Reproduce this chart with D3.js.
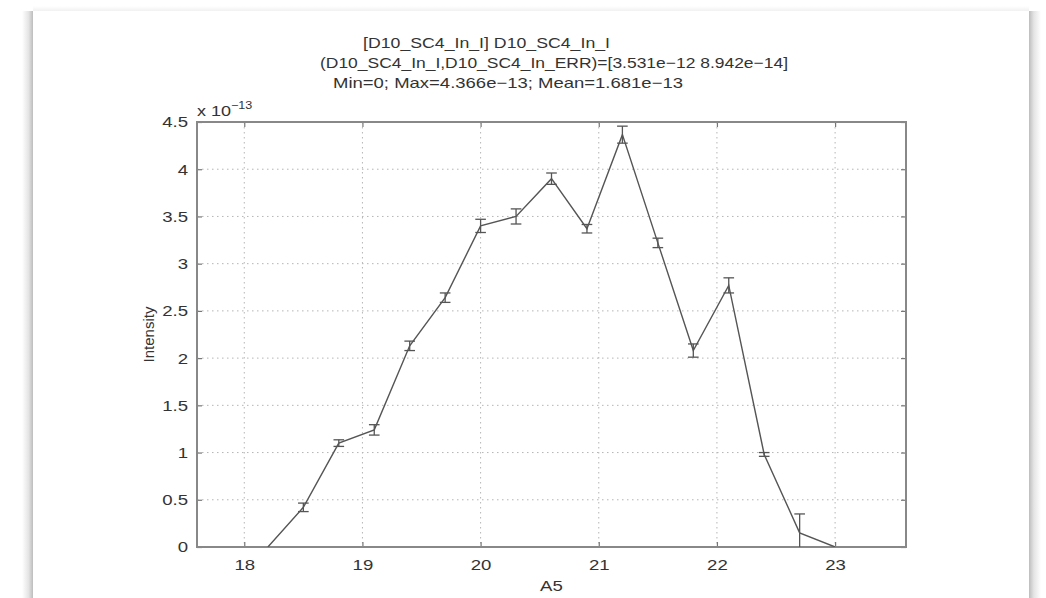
<!DOCTYPE html>
<html>
<head>
<meta charset="utf-8">
<script src="https://cdn.jsdelivr.net/npm/d3@7"></script>
<style>
  html, body { margin: 0; padding: 0; background: #ffffff; }
  svg { display: block; }
  text { font-family: "Liberation Sans", Arial, Helvetica, sans-serif; fill: #333; }
</style>
</head>
<body>
<svg id="chart" width="1046" height="598"></svg>
<script>
// ---- data ----
const titleLines = [
  "[D10_SC4_In_I] D10_SC4_In_I",
  "(D10_SC4_In_I,D10_SC4_In_ERR)=[3.531e\u221212 8.942e\u221214]",
  "Min=0; Max=4.366e\u221213; Mean=1.681e\u221213"
];
const xValues   = [18.2, 18.5, 18.8, 19.1, 19.4, 19.7, 20.0, 20.3, 20.6, 20.9, 21.2, 21.5, 21.8, 22.1, 22.4, 22.7, 23.0];
const intensity = [0, 0.42e-13, 1.10e-13, 1.24e-13, 2.13e-13, 2.64e-13, 3.40e-13, 3.50e-13, 3.90e-13, 3.37e-13, 4.366e-13, 3.22e-13, 2.08e-13, 2.77e-13, 0.98e-13, 0.15e-13, 0];
const errValues = [0, 0.045e-13, 0.035e-13, 0.055e-13, 0.05e-13, 0.05e-13, 0.07e-13, 0.08e-13, 0.06e-13, 0.045e-13, 0.09e-13, 0.05e-13, 0.07e-13, 0.08e-13, 0.02e-13, 0.20e-13, 0];
const xTicks = [18, 19, 20, 21, 22, 23];
const yTicks = [0, 0.5e-13, 1e-13, 1.5e-13, 2e-13, 2.5e-13, 3e-13, 3.5e-13, 4e-13, 4.5e-13];
const yTickLabels = ["0", "0.5", "1", "1.5", "2", "2.5", "3", "3.5", "4", "4.5"];
const xLabel = "A5";
const yLabel = "Intensity";
const xDomain = [17.6, 23.6];
const yDomain = [0, 4.5e-13];

// ---- layout ----
const svg = d3.select("#chart");
const W = 1046, H = 598;
const plot = { left: 197, right: 906, top: 122, bottom: 547 };
const hStretch = 1.2; // the reference text is horizontally widened

// page sheet with side shadows
const defs = svg.append("defs");
const gl = defs.append("linearGradient").attr("id", "shL").attr("x1", "0").attr("x2", "1");
gl.append("stop").attr("offset", "0").attr("stop-color", "#fff");
gl.append("stop").attr("offset", "0.6").attr("stop-color", "#e4e4e4");
gl.append("stop").attr("offset", "1").attr("stop-color", "#bdbdbd");
const gr = defs.append("linearGradient").attr("id", "shR").attr("x1", "0").attr("x2", "1");
gr.append("stop").attr("offset", "0").attr("stop-color", "#bdbdbd");
gr.append("stop").attr("offset", "0.4").attr("stop-color", "#e4e4e4");
gr.append("stop").attr("offset", "1").attr("stop-color", "#fff");
const gt = defs.append("linearGradient").attr("id", "shT").attr("x1", "0").attr("x2", "0").attr("y1", "0").attr("y2", "1");
gt.append("stop").attr("offset", "0").attr("stop-color", "#fff");
gt.append("stop").attr("offset", "1").attr("stop-color", "#f1f1f1");

svg.append("rect").attr("x", 0).attr("y", 0).attr("width", W).attr("height", H).attr("fill", "#fff");
svg.append("rect").attr("x", 22).attr("y", 11).attr("width", 11).attr("height", H - 11).attr("fill", "url(#shL)");
svg.append("rect").attr("x", 1029).attr("y", 11).attr("width", 12).attr("height", H - 11).attr("fill", "url(#shR)");
svg.append("rect").attr("x", 33).attr("y", 6).attr("width", 996).attr("height", 5).attr("fill", "url(#shT)");
svg.append("rect").attr("x", 33).attr("y", 11).attr("width", 996).attr("height", H - 11).attr("fill", "#fff");

const x = d3.scaleLinear().domain(xDomain).range([plot.left, plot.right]);
const y = d3.scaleLinear().domain(yDomain).range([plot.bottom, plot.top]);

const g = svg.append("g");

// grid (dotted)
g.append("g").selectAll("line.gx").data(xTicks).join("line")
  .attr("x1", d => x(d)).attr("x2", d => x(d))
  .attr("y1", plot.top).attr("y2", plot.bottom)
  .attr("stroke", "#b5b5b5").attr("stroke-width", 1).attr("stroke-dasharray", "1.5,3.5");
g.append("g").selectAll("line.gy").data(yTicks).join("line")
  .attr("x1", plot.left).attr("x2", plot.right)
  .attr("y1", d => y(d)).attr("y2", d => y(d))
  .attr("stroke", "#b5b5b5").attr("stroke-width", 1).attr("stroke-dasharray", "1.5,3.5");

// axes with inward ticks (bottom/left labelled, top/right unlabelled)
const tickLen = 5;
const axB = d3.axisBottom(x).tickValues(xTicks).tickSize(-tickLen).tickPadding(12).tickFormat(d3.format("d"));
const axT = d3.axisTop(x).tickValues(xTicks).tickSize(-tickLen).tickFormat("");
const axL = d3.axisLeft(y).tickValues(yTicks).tickSize(-tickLen).tickPadding(9).tickFormat((d, i) => yTickLabels[i]);
const axR = d3.axisRight(y).tickValues(yTicks).tickSize(-tickLen).tickFormat("");

function style(sel) {
  sel.select(".domain").remove();
  sel.selectAll(".tick line").attr("stroke", "#777").attr("stroke-width", 1.2);
  sel.selectAll(".tick text").attr("fill", "#333").style("font-size", "15.5px")
     .style("font-family", '"Liberation Sans", Arial, sans-serif');
}
function stretchText(sel, anchorX) {
  // widen glyphs horizontally around their anchor point
  sel.selectAll(".tick text").each(function () {
    const t = d3.select(this);
    const xx = +t.attr("x") || 0;
    t.attr("transform", `translate(${xx},0) scale(${hStretch},1) translate(${-xx},0)`);
  });
}
g.append("g").attr("transform", `translate(0,${plot.bottom})`).call(axB).call(style).call(stretchText);
g.append("g").attr("transform", `translate(0,${plot.top})`).call(axT).call(style);
g.append("g").attr("transform", `translate(${plot.left},0)`).call(axL).call(style).call(stretchText);
g.append("g").attr("transform", `translate(${plot.right},0)`).call(axR).call(style);

// frame
g.append("rect").attr("x", plot.left).attr("y", plot.top)
  .attr("width", plot.right - plot.left).attr("height", plot.bottom - plot.top)
  .attr("fill", "none").attr("stroke", "#888").attr("stroke-width", 2);

// clip for data
defs.append("clipPath").attr("id", "plotClip").append("rect")
  .attr("x", plot.left).attr("y", plot.top - 10)
  .attr("width", plot.right - plot.left).attr("height", plot.bottom - plot.top + 10);

const pts = xValues.map((v, i) => ({ x: v, y: intensity[i], e: errValues[i] }));
const data = g.append("g").attr("clip-path", "url(#plotClip)");

// error bars
const capHalf = 0.045; // in x units
const eb = data.append("g").attr("stroke", "#555").attr("stroke-width", 1.3).attr("fill", "none");
pts.filter(d => d.e > 0).forEach(d => {
  eb.append("line").attr("x1", x(d.x)).attr("x2", x(d.x)).attr("y1", y(d.y - d.e)).attr("y2", y(d.y + d.e));
  eb.append("line").attr("x1", x(d.x - capHalf)).attr("x2", x(d.x + capHalf)).attr("y1", y(d.y + d.e)).attr("y2", y(d.y + d.e));
  eb.append("line").attr("x1", x(d.x - capHalf)).attr("x2", x(d.x + capHalf)).attr("y1", y(d.y - d.e)).attr("y2", y(d.y - d.e));
});

// line
data.append("path").datum(pts)
  .attr("d", d3.line().x(d => x(d.x)).y(d => y(d.y)))
  .attr("fill", "none").attr("stroke", "#555").attr("stroke-width", 1.4);

// title
const titleX = [363, 320, 333], titleW = [247, 468, 350];
svg.append("g").selectAll("text").data(titleLines).join("text")
  .attr("x", (d, i) => titleX[i])
  .attr("y", (d, i) => 48 + i * 20)
  .attr("textLength", (d, i) => titleW[i])
  .attr("lengthAdjust", "spacingAndGlyphs")
  .style("font-size", "15px")
  .text(d => d);

// exponent label
const ex = svg.append("text").attr("x", 197).attr("y", 116).style("font-size", "15px")
  .attr("transform", `translate(197,0) scale(${hStretch},1) translate(-197,0)`);
ex.append("tspan").text("x 10");
ex.append("tspan").attr("dy", -7).style("font-size", "10.5px").text("\u221213");

// axis labels
svg.append("text").attr("x", (plot.left + plot.right) / 2).attr("y", 591)
  .attr("text-anchor", "middle").style("font-size", "15.5px")
  .attr("transform", `translate(${(plot.left + plot.right) / 2},0) scale(${hStretch},1) translate(${-(plot.left + plot.right) / 2},0)`)
  .text(xLabel);
svg.append("text").attr("transform", `translate(154,${(plot.top + plot.bottom) / 2}) rotate(-90)`)
  .attr("text-anchor", "middle").style("font-size", "15px").text(yLabel);
</script>
</body>
</html>
